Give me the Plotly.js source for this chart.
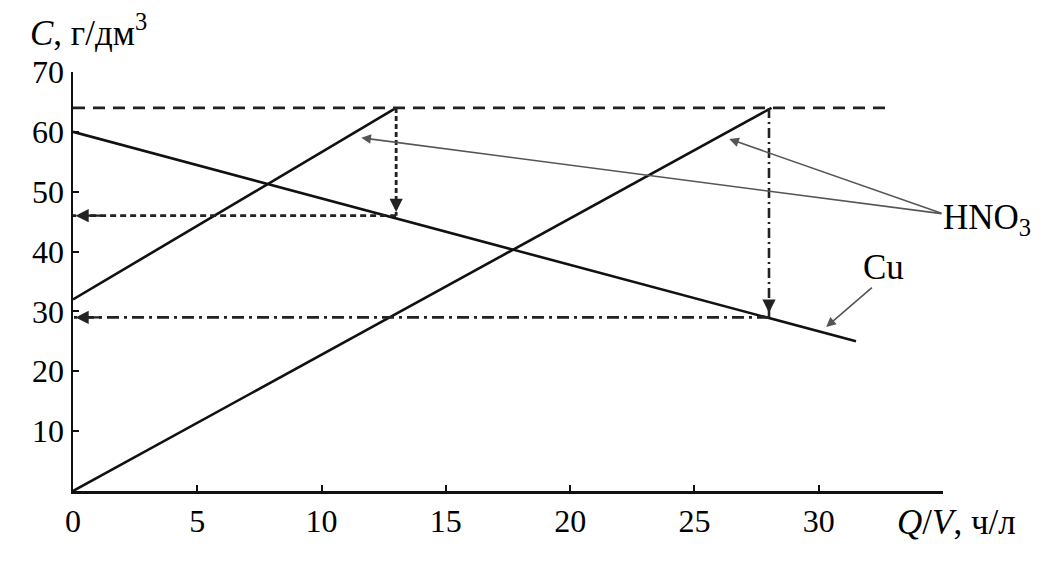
<!DOCTYPE html>
<html>
<head>
<meta charset="utf-8">
<script src="https://cdn.plot.ly/plotly-3.0.1.min.js"></script>
<style>html,body{margin:0;padding:0;background:#fff;}#chart{width:1053px;height:563px;}</style>
</head>
<body>
<div id="chart"></div>
<script>
// Data
const cuX = [0, 31.5];
const cuY = [60, 25];
const hno3LineAX = [0, 13];
const hno3LineAY = [32, 64];
const hno3LineBX = [0, 28.1];
const hno3LineBY = [0, 64];
const maxLevelX = [0, 32.7];
const maxLevelY = [64, 64];
const dropAX = [13, 13];
const dropAY = [64, 46];
const readAX = [13, 0];
const readAY = [46, 46];
const dropBX = [28, 28];
const dropBY = [64, 29];
const readBX = [28, 0];
const readBY = [29, 29];
const xTickVals = [0, 5, 10, 15, 20, 25, 30, 35];
const xTickText = ['0', '5', '10', '15', '20', '25', '30', ''];
const yTickVals = [0, 10, 20, 30, 40, 50, 60, 70];
const yTickText = ['', '10', '20', '30', '40', '50', '60', '70'];
const hno3Label = {x: 35.0, y: 46.3};
const hno3Targets = [{x: 11.6, y: 59.0}, {x: 26.4, y: 58.8}];
const cuLabelFrom = {x: 32.2, y: 34.2};
const cuTarget = {x: 30.3, y: 27.4};

const FONT = 'Liberation Serif, Times New Roman, serif';
const solid = {color: '#111', width: 2.6};
const traces = [
  {x: cuX, y: cuY, mode: 'lines', line: solid, hoverinfo: 'skip'},
  {x: hno3LineAX, y: hno3LineAY, mode: 'lines', line: solid, hoverinfo: 'skip'},
  {x: hno3LineBX, y: hno3LineBY, mode: 'lines', line: solid, hoverinfo: 'skip'},
  {x: maxLevelX, y: maxLevelY, mode: 'lines', line: {color: '#222', width: 2.8, dash: '12px,8px'}, hoverinfo: 'skip'},
  {x: dropAX, y: dropAY, mode: 'lines', line: {color: '#222', width: 2.8, dash: '5px,3px'}, hoverinfo: 'skip'},
  {x: readAX, y: readAY, mode: 'lines', line: {color: '#222', width: 2.8, dash: '6px,4px'}, hoverinfo: 'skip'},
  {x: dropBX, y: dropBY, mode: 'lines', line: {color: '#222', width: 2.6, dash: '10px,4px,2px,4px'}, hoverinfo: 'skip'},
  {x: readBX, y: readBY, mode: 'lines', line: {color: '#222', width: 2.6, dash: '12px,5px,3px,5px'}, hoverinfo: 'skip'}
];

function headAnn(x, y, ax, ay) {
  return {x: x, y: y, ax: ax, ay: ay, xref: 'x', yref: 'y', axref: 'x', ayref: 'y',
    text: '', showarrow: true, arrowhead: 2, arrowsize: 1.1, arrowwidth: 2.4, arrowcolor: '#222'};
}

const annotations = [
  headAnn(dropAX[1], dropAY[1] + 0.6, dropAX[1], dropAY[1] + 3),
  headAnn(readAX[1] + 0.1, readAY[1], readAX[1] + 1.2, readAY[1]),
  headAnn(dropBX[1], dropBY[1] + 0.8, dropBX[1], dropBY[1] + 3),
  headAnn(readBX[1] + 0.1, readBY[1], readBX[1] + 1.2, readBY[1]),
  {x: hno3Targets[0].x, y: hno3Targets[0].y, ax: hno3Label.x, ay: hno3Label.y, xref: 'x', yref: 'y', axref: 'x', ayref: 'y',
    text: '', showarrow: true, arrowhead: 2, arrowsize: 1.2, arrowwidth: 1.6, arrowcolor: '#555'},
  {x: hno3Targets[1].x, y: hno3Targets[1].y, ax: hno3Label.x, ay: hno3Label.y, xref: 'x', yref: 'y', axref: 'x', ayref: 'y',
    text: '', showarrow: true, arrowhead: 2, arrowsize: 1.2, arrowwidth: 1.6, arrowcolor: '#555'},
  {x: cuTarget.x, y: cuTarget.y, ax: cuLabelFrom.x, ay: cuLabelFrom.y, xref: 'x', yref: 'y', axref: 'x', ayref: 'y',
    text: '', showarrow: true, arrowhead: 2, arrowsize: 1.2, arrowwidth: 1.6, arrowcolor: '#555'},
  {x: hno3Label.x, y: hno3Label.y, xref: 'x', yref: 'y', xanchor: 'left', yanchor: 'middle', xshift: -2, yshift: -6,
    text: 'HNO<sub>3</sub>', showarrow: false, font: {family: FONT, size: 35, color: '#000'}},
  {x: 32.6, y: 37.3, xref: 'x', yref: 'y', xanchor: 'center', yanchor: 'middle',
    text: 'Cu', showarrow: false, font: {family: FONT, size: 35, color: '#000'}},
  {x: -0.052, y: 1.04, xref: 'paper', yref: 'paper', xanchor: 'left', yanchor: 'bottom',
    text: '<i>C</i>, г/дм<sup>3</sup>', showarrow: false, font: {family: FONT, size: 35, color: '#000'}},
  {x: 0.945, y: -0.025, xref: 'paper', yref: 'paper', xanchor: 'left', yanchor: 'top',
    text: '<i>Q</i>/<i>V</i>, ч/л', showarrow: false, font: {family: FONT, size: 35, color: '#000'}}
];

const layout = {
  width: 1053, height: 563,
  margin: {l: 73, r: 110, t: 72, b: 72},
  paper_bgcolor: '#fff', plot_bgcolor: '#fff',
  showlegend: false,
  xaxis: {range: [0, 35], showgrid: false, zeroline: false, showline: true, linecolor: '#111', linewidth: 2.5,
    ticks: 'inside', ticklen: 6, tickwidth: 2, tickcolor: '#111', tickvals: xTickVals, ticktext: xTickText,
    tickfont: {family: FONT, size: 32, color: '#000'}, fixedrange: true},
  yaxis: {range: [0, 70], showgrid: false, zeroline: false, showline: true, linecolor: '#111', linewidth: 2.5,
    ticks: 'inside', ticklen: 6, tickwidth: 2, tickcolor: '#111', tickvals: yTickVals, ticktext: yTickText,
    tickfont: {family: FONT, size: 32, color: '#000'}, fixedrange: true},
  annotations: annotations
};

Plotly.newPlot('chart', traces, layout, {staticPlot: true, displayModeBar: false});
</script>
</body>
</html>
